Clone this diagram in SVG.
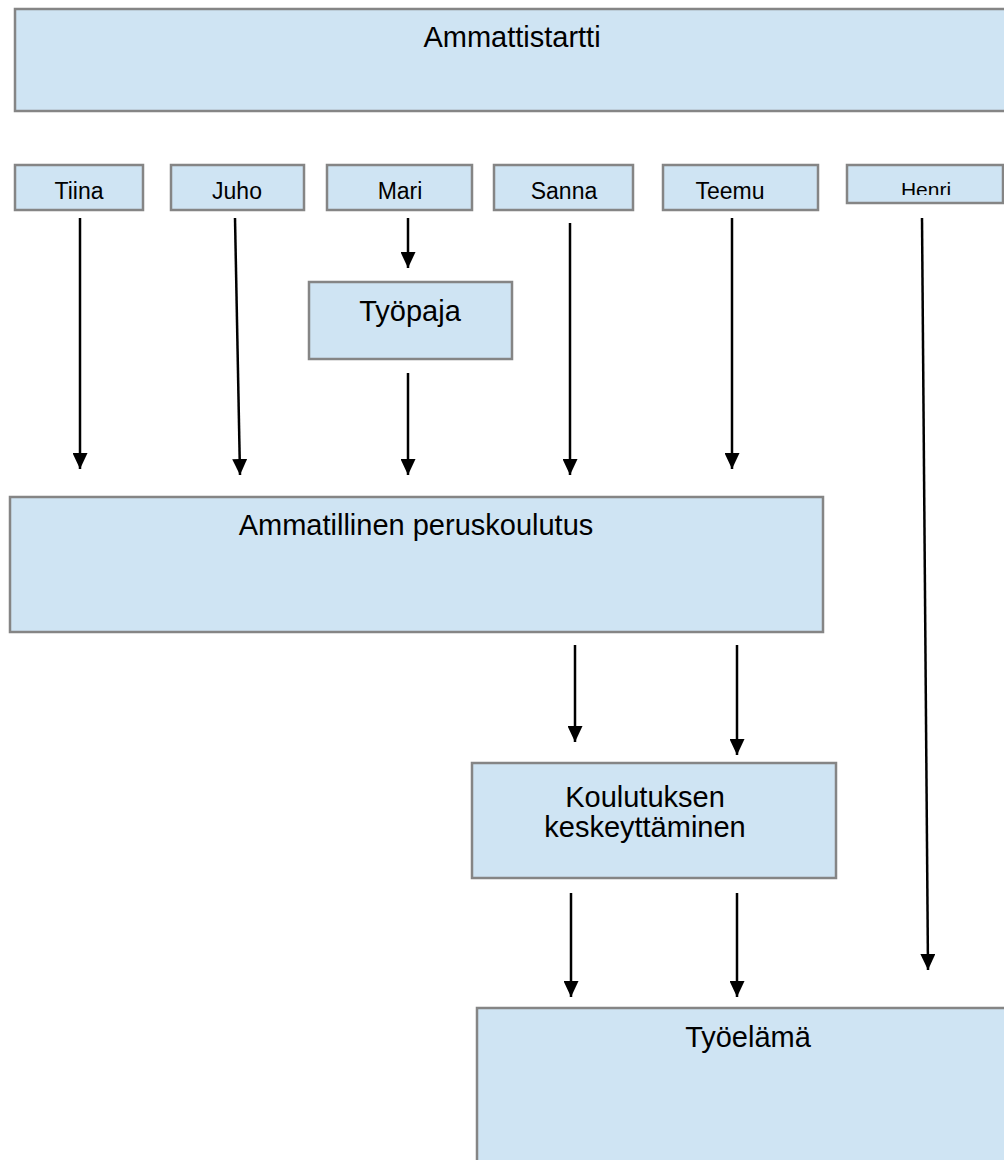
<svg xmlns="http://www.w3.org/2000/svg" width="1004" height="1160" viewBox="0 0 1004 1160">
<style>
.box{fill:#cfe4f3;stroke:#858585;stroke-width:2.5}
.t{font-family:"Liberation Sans",Arial,sans-serif;fill:#000;text-anchor:middle}
.s{font-size:23px}
.b{font-size:29px}
.c line{stroke:#000;stroke-width:2.5;marker-end:url(#ah)}
</style>
<defs>
<marker id="ah" viewBox="0 0 16 15" refX="16" refY="7.5" markerWidth="16" markerHeight="15" markerUnits="userSpaceOnUse" orient="auto">
<path d="M0,0 L16,7.5 L0,15 Z" fill="#000"/>
</marker>
<clipPath id="hc"><rect x="848" y="166" width="154" height="29"/></clipPath>
</defs>
<rect width="1004" height="1160" fill="#fff"/>
<g id="ammattistartti"><rect class="box" x="15" y="9" width="1000" height="102"/><text class="t b" x="512" y="47">Ammattistartti</text></g>
<g id="tiina"><rect class="box" x="15" y="165" width="128" height="45"/><text class="t s" x="79" y="199">Tiina</text></g>
<g id="juho"><rect class="box" x="171" y="165" width="133" height="45"/><text class="t s" x="237" y="199">Juho</text></g>
<g id="mari"><rect class="box" x="327" y="165" width="145" height="45"/><text class="t s" x="400" y="199">Mari</text></g>
<g id="sanna"><rect class="box" x="494" y="165" width="139" height="45"/><text class="t s" x="564" y="199">Sanna</text></g>
<g id="teemu"><rect class="box" x="663" y="165" width="155" height="45"/><text class="t s" x="730" y="199">Teemu</text></g>
<g id="henri"><rect class="box" x="847" y="165" width="156" height="38"/><text class="t" style="font-size:21px" x="926" y="197" clip-path="url(#hc)">Henri</text></g>
<g id="tyopaja"><rect class="box" x="309" y="282" width="203" height="77"/><text class="t b" x="410" y="321">Työpaja</text></g>
<g id="ammatillinen"><rect class="box" x="10" y="497" width="813" height="135"/><text class="t b" x="416" y="535">Ammatillinen peruskoulutus</text></g>
<g id="keskeyttaminen"><rect class="box" x="472" y="763" width="364" height="115"/><text class="t b" x="645" y="807">Koulutuksen</text><text class="t b" x="645" y="837">keskeyttäminen</text></g>
<g id="tyoelama"><rect class="box" x="477" y="1008" width="540" height="170"/><text class="t b" x="748" y="1047">Työelämä</text></g>
<g id="connectors" class="c">
<line x1="80" y1="218" x2="80" y2="469"/>
<line x1="235" y1="218" x2="240" y2="475"/>
<line x1="408" y1="218" x2="408" y2="268"/>
<line x1="408" y1="373" x2="408" y2="475"/>
<line x1="570" y1="223" x2="570" y2="475"/>
<line x1="732" y1="218" x2="732" y2="469"/>
<line x1="922" y1="218" x2="928" y2="970"/>
<line x1="575" y1="645" x2="575" y2="742"/>
<line x1="737" y1="645" x2="737" y2="755"/>
<line x1="571" y1="893" x2="571" y2="997"/>
<line x1="737" y1="893" x2="737" y2="997"/>
</g>
</svg>
